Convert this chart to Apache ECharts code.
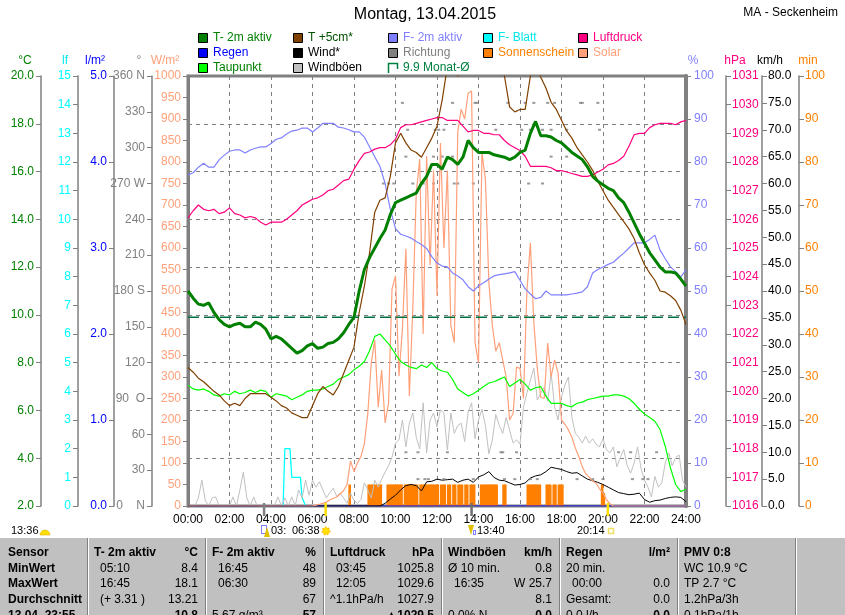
<!DOCTYPE html>
<html><head><meta charset="utf-8">
<script src="https://cdn.jsdelivr.net/npm/echarts@6/dist/echarts.min.js"></script>
<style>html,body{margin:0;padding:0;background:#fff}#c{width:845px;height:615px}</style>
</head><body><div id="c"></div>
<script>
// ---------- DATA ----------
const TITLE = 'Montag, 13.04.2015';
const STATION = 'MA - Seckenheim';
const HOUR_TICKS = 2;
const MONTH_AVG = 9.9;

// 15-minute values 00:00 .. 24:00
const T2M = [11.0,10.7,10.45,10.4, 10.5,10.1,9.8,9.6, 9.5,9.6,9.65,9.5, 9.5,9.7,9.6,9.4,
  9.0,9.1,9.0,8.8, 8.6,8.4,8.5,8.7, 8.8,8.6,8.65,8.8, 8.85,9.0,9.25,9.6,
  9.9,11.0,11.9,12.4, 12.8,13.2,13.55,14.2, 14.7,14.8,14.9,15.0, 15.1,15.5,15.8,16.3,
  16.3,16.1,16.6,16.5, 16.3,16.6,17.3,17.0, 16.8,16.8,16.8,16.7, 16.65,16.6,16.5,16.6,
  16.8,16.9,17.6,18.1, 17.5,17.5,17.45,17.3, 17.2,17.0,16.8,16.65, 16.5,16.2,15.8,15.6,
  15.45,15.3,15.2,14.9, 14.7,14.3,13.85,13.4, 13.0,12.6,12.3,12.0, 11.8,11.8,11.75,11.5, 11.2];
const T5CM = [7.8,7.6,7.35,7.2, 7.0,6.8,6.65,6.4, 6.2,6.3,6.2,6.5, 6.7,6.7,6.7,6.7,
  6.55,6.4,6.2,6.1, 5.9,5.8,5.7,5.7, 6.2,6.7,7.0,6.8, 6.65,7.0,7.55,8.1,
  8.65,10.1,11.2,12.6, 14.3,14.8,14.9,15.8, 17.2,17.6,17.2,16.9, 16.8,16.6,17.0,17.4,
  17.9,19.0,20.4,20.8, 20.0,21.0,22.0,22.5, 22.5,22.0,21.8,21.3, 20.8,20.0,18.7,18.5,
  18.6,18.6,20.0,20.5, 19.95,19.5,18.9,18.6, 18.15,17.7,17.4,17.0, 16.7,16.4,16.05,15.6,
  15.2,14.8,14.5,14.2, 13.9,13.6,13.2,12.6, 12.1,11.75,11.45,11.0, 10.95,10.8,10.6,10.2, 9.6];
const DEWPOINT = [7.06,6.9,6.85,6.9, 6.8,6.65,6.6,6.7, 6.65,6.8,6.7,6.75, 6.85,6.75,6.85,6.8,
  6.55,6.7,6.65,6.6, 6.45,6.55,6.65,6.8, 6.85,6.85,6.9,7.0, 7.1,7.3,7.4,7.5,
  7.7,7.85,8.05,8.5, 9.1,9.2,8.95,8.7, 8.35,8.05,7.9,7.8, 7.75,7.9,7.8,8.0,
  7.75,7.65,7.6,7.3, 6.9,6.75,6.6,6.7, 6.85,7.0,7.15,7.2, 7.3,7.4,7.0,7.15,
  7.3,7.1,6.85,6.95, 7.0,6.6,6.3,6.3, 6.3,6.2,6.15,6.3, 6.35,6.45,6.5,6.55,
  6.6,6.6,6.65,6.65, 6.6,6.5,6.3,6.05, 5.85,5.7,5.55,5.2, 4.5,3.6,2.9,2.6, 2.7];
const HUMIDITY = [77.0,77.5,78.8,79.7, 78.8,78.8,80.5,81.6, 82.5,82.8,82.8,82.1, 82.8,83.2,83.5,83.5,
  84.3,85.3,85.6,86.5, 87.2,87.4,87.9,87.9, 87.0,87.9,89.0,89.0, 89.0,88.1,87.9,87.5,
  87.0,87.0,85.8,83.5, 81.2,79.0,75.0,69.0, 64.5,63.2,62.8,62.3, 61.5,60.8,59.9,58.0,
  56.5,55.8,55.6,54.2, 53.5,52.6,51.0,50.0, 51.2,51.9,52.8,53.5, 53.8,54.0,54.2,54.5,
  52.5,50.5,49.3,48.2, 48.5,50.0,49.1,49.1, 49.1,49.1,49.3,49.5, 49.8,51.0,54.2,55.0,
  55.6,56.2,56.7,57.8, 58.8,60.0,61.2,61.2, 61.2,62.0,63.0,59.5, 57.5,55.6,54.5,53.3, 54.9];
const PRESSURE = [1026.05,1026.3,1026.5,1026.35, 1026.3,1026.35,1026.2,1026.25, 1026.4,1026.2,1026.15,1026.05, 1026.1,1026.05,1025.9,1025.8,
  1025.9,1025.9,1025.9,1026.0, 1026.15,1026.3,1026.5,1026.6, 1026.7,1026.75,1026.85,1027.0, 1027.05,1027.2,1027.35,1027.4,
  1027.75,1028.05,1028.3,1028.35, 1028.45,1028.5,1028.5,1028.6, 1028.8,1029.2,1029.3,1029.3, 1029.35,1029.4,1029.45,1029.5,
  1029.55,1029.55,1029.45,1029.45, 1029.45,1029.25,1029.05,1029.1, 1029.1,1029.0,1029.0,1028.95, 1028.95,1028.75,1028.6,1028.5,
  1028.4,1028.2,1027.85,1027.85, 1027.85,1027.85,1027.8,1027.7, 1027.7,1027.65,1027.6,1027.55, 1027.5,1027.5,1027.55,1027.65,
  1027.75,1027.9,1027.95,1028.05, 1028.2,1028.55,1028.95,1029.0, 1029.0,1029.2,1029.3,1029.35, 1029.35,1029.35,1029.3,1029.4, 1029.45];

// wind (15-minute values from 09:00)
const WIND_START = '09:00';
const WIND = [0,0,0.5,1.3, 2.0,3.0,3.8,4.0, 3.8,2.8,4.5,4.6, 5.0,4.8,4.9,5.0, 4.4,4.8,5.0,4.4,
  5.4,5.8,6.4,5.3, 4.8,4.7,4.3,3.9, 4.0,4.3,5.2,5.6, 5.8,6.4,7.2,7.0, 6.8,6.4,6.1,6.2,
  5.6,5.0,4.7,4.4, 4.0,3.5,3.0,2.5, 2.3,2.1,2.2,2.4, 1.2,0.7,1.0,1.1, 1.4,1.6,1.7,1.6, 0.8];

// gusts (10-minute values 00:00 .. 24:00)
const GUSTS = [0,0,0,1.5,4.8,1.0, 0,1.5,1.7,0,0,0, 0,1.7,0,3.0,6.3,1.5, 0,1.7,0,0,0,0,
  0,0,1.7,0,1.5,0, 1.7,0,3.0,1.5,4.8,2.0, 4.8,3.5,4.5,3.0,1.5,2.5, 3.3,1.8,2.4,1.5,0.5,2.4,
  1.0,0.5,1.2,4.3,3.0,1.5, 4.8,3.5,5.0,6.3,7.5,9.1, 11.7,12.3,16.0,11.0,15.4,17.3, 12.8,10.6,19.2,9.9,16.0,17.3,
  14.7,17.9,17.3,10.4,17.3,13.5, 15.0,15.4,12.0,17.5,19.2,12.5, 16.0,18.0,15.0,9.7,12.3,17.0, 15.0,13.5,16.5,14.1,11.7,12.3,
  11.5,18.4,21.0,23.4,25.7,19.7, 21.0,22.1,19.5,24.7,18.5,16.0, 20.3,22.5,24.0,16.5,13.5,12.8, 11.7,13.0,11.7,12.5,11.5,11.0,
  12.5,10.5,9.9,11.0,7.3,9.0, 10.5,7.5,6.1,8.0,11.0,7.0, 4.8,3.5,1.7,5.5,3.5,4.3, 8.0,9.9,7.5,9.0,9.5,4.8, 3.5];

// solar radiation (10-minute values from 06:00 to 20:30), zero at night
const SOLAR_START = '06:00';
const SOLAR = [0,2,4,6,9,14, 18,21,28,36,50,105, 80,100,115,145,216,333, 386,230,316,193,240,505,
  535,302,412,598,256,458, 728,807,400,814,560,780, 488,844,600,780,420,380, 870,923,900,960,965,380,
  333,820,760,520,420,360, 380,340,300,200,215,323, 320,250,500,612,426,320, 253,250,379,300,340,310,
  200,190,177,160,135,115, 91,75,67,58,53,40, 30,15,5,0];

// sunshine minutes per 5-minute slot, from 07:30
const SUN_START = '07:30';
const SUN = [0,0,0,5, 0,0,0,0,0,0,0,0,0,0, 5,5,5,5,5,5,5,5, 0,0,0, 5,5,5,5,5,5,5,5,5, 0,
  5,5,5,5,5,5,5,5, 0, 5,5,5,5,5,5,5,5,5,5,5, 0, 5,5,5, 0, 5,5, 0, 5,5, 0, 5,5,5, 0, 5,5, 0, 5,5,5,
  0,0,0, 5,5,5,5,5,5,5,5,5,5, 0,0,0, 5,5, 0,0,0,0,0,0,0,0,0,0,0,0, 5,5,5,5,5,5,5,5, 0,0,0,
  5,5,5, 0, 5,5, 0, 5,5,5, 0,0,0,0,0,0,0,0,0,0,0,0,0,0,0,0,0,0,0,0,0,0, 5,3, 0,0,0,0,0];

// leaf wetness (only non-zero episode)
const LEAF_TIMES = ['04:35','04:40','04:55','05:00','05:25','05:30','05:35','05:40'];
const LEAF = [0,2,2,1,1,0.3,0.3,0];

// rain
const RAIN_TIMES = ['00:00','24:00'];
const RAIN = [0,0];

// wind direction samples
const DIR_TIMES = ['09:25','09:40','09:55','10:20','10:30','10:30','10:35','10:50','11:05','11:05','11:20','11:25','11:35',
  '11:50','11:50','11:55','12:05','12:15','12:20','12:20','12:30','12:45','12:45','12:50','13:00','13:45','13:45','13:50',
  '13:55','14:50','15:05','15:10','15:15','15:25','15:45','15:50','16:05','16:15','16:25','16:30','16:30','16:40','16:50',
  '17:05','17:05','17:20','17:30','17:30','17:40','18:15','18:15','18:45','18:55','19:00','19:30','19:45','19:50','20:00',
  '20:45','21:20','21:25','21:55','22:10','22:35'];
const DIR_DEG = [270,270,270,337.5,292.5,45,315,270,45,22.5,270,22.5,22.5,
  270,292.5,315,315,292.5,315,22.5,45,337.5,292.5,270,270,270,22.5,337.5,
  337.5,315,45,45,22.5,337.5,22.5,45,315,337.5,270,315,22.5,337.5,22.5,
  315,270,337.5,315,292.5,337.5,315,292.5,22.5,337.5,337.5,22.5,337.5,315,22.5,
  45,45,22.5,22.5,22.5,45];

// astronomical events
const DAY_LENGTH = '13:36';
const MOONRISE = '03:40';
const SUNRISE = '06:38';
const MOONSET = '13:40';
const SUNSET = '20:14';

// statistics table
const TABLE_HEAD = [['Sensor'],['T- 2m aktiv','°C'],['F- 2m aktiv','%'],['Luftdruck','hPa'],['Windböen','km/h'],['Regen','l/m²'],['PMV 0:8']];
const TABLE_ROWS = [
  [['MinWert'],['05:10','8.4'],['16:45','48'],['03:45','1025.8'],['Ø 10 min.','0.8'],['20 min.',''],['WC 10.9 °C']],
  [['MaxWert'],['16:45','18.1'],['06:30','89'],['12:05','1029.6'],['16:35','W 25.7'],['00:00','0.0'],['TP 2.7 °C']],
  [['Durchschnitt'],['(+ 3.31 )','13.21'],['','67'],['^1.1hPa/h','1027.9'],['','8.1'],['Gesamt:','0.0'],['1.2hPa/3h']],
  [['13.04. 23:55'],['','10.8'],['5.67 g/m³','57'],['','▲1029.5'],['0.0% N','0.0'],['0.0 l/h','0.0'],['0.1hPa/1h']]
];

// ---------- CHART ----------
const FONT = "'Liberation Sans', Arial, sans-serif";
const hm = s => { const p = s.split(':').map(Number); return p[0] + p[1] / 60; };
const q15 = arr => arr.map((v, i) => [i / 4, v]);
const stepFrom = (arr, t0, perHour) => arr.map((v, i) => [t0 + i / perHour, v]);
const byTimes = (times, vals) => times.map((t, i) => [hm(t), vals[i]]);

const chart = echarts.init(document.getElementById('c'), null, { renderer: 'canvas' });

function yAx(o) {
  return {
    type: 'value', min: o.min, max: o.max, interval: o.interval, position: o.pos, offset: o.offset,
    axisLine: { show: true, onZero: false, lineStyle: { color: '#808080', width: o.lw || 1.5 } },
    axisTick: { show: true, length: 5, lineStyle: { color: '#808080', width: 1 } },
    axisLabel: { color: o.color, fontSize: 12, fontFamily: FONT, margin: o.margin || 7, formatter: o.fmt,
      showMinLabel: true, showMaxLabel: true },
    splitLine: { show: !!o.split, lineStyle: { color: '#808080', width: 1, type: [4, 4] } }
  };
}
const dirNames = { 360: '360 N', 270: '270 W', 180: '180 S', 90: '90  O', 0: '0    N' };

const line = (name, data, yi, color, width, z) => ({
  name, type: 'line', data, yAxisIndex: yi, showSymbol: false, symbol: 'none', clip: true, z: z || 3,
  lineStyle: { color, width: width || 1 }, itemStyle: { color }, animation: false
});

const option = {
  animation: false,
  backgroundColor: '#ffffff',
  grid: { left: 188, right: 159, top: 76, bottom: 109, show: true, borderColor: '#808080', borderWidth: 3 },
  xAxis: {
    type: 'value', min: 0, max: 24, interval: HOUR_TICKS,
    axisLine: { show: true, onZero: false, lineStyle: { color: '#808080', width: 2 } },
    axisTick: { show: false },
    axisLabel: { color: '#000', fontSize: 12, fontFamily: FONT, margin: 8,
      formatter: v => String(v).padStart(2, '0') + ':00' },
    splitLine: { show: true, lineStyle: { color: '#808080', width: 1, type: [4, 4] } }
  },
  yAxis: [
    yAx({ min: 2, max: 20, interval: 2, pos: 'left', offset: 147, color: '#008000', fmt: v => v.toFixed(1), split: true }),
    yAx({ min: 0, max: 15, interval: 1, pos: 'left', offset: 110, color: '#00FFFF', fmt: v => String(v) }),
    yAx({ min: 0, max: 5, interval: 1, pos: 'left', offset: 74, color: '#0000FF', fmt: v => v.toFixed(1) }),
    yAx({ min: 0, max: 360, interval: 30, pos: 'left', offset: 36, color: '#808080', fmt: v => dirNames[v] || String(v) }),
    yAx({ min: 0, max: 1000, interval: 50, pos: 'left', offset: 0, color: '#FFA07A', fmt: v => String(v), lw: 3 }),
    yAx({ min: 0, max: 100, interval: 10, pos: 'right', offset: 0, color: '#8080FF', fmt: v => String(v), lw: 4, margin: 8 }),
    yAx({ min: 1016, max: 1031, interval: 1, pos: 'right', offset: 40, color: '#FF0080', fmt: v => String(v), margin: 6 }),
    yAx({ min: 0, max: 80, interval: 5, pos: 'right', offset: 76, color: '#000000', fmt: v => v.toFixed(1), margin: 6 }),
    yAx({ min: 0, max: 100, interval: 10, pos: 'right', offset: 113, color: '#FF8000', fmt: v => String(v), margin: 6 })
  ],
  series: [
    line('Regen', byTimes(RAIN_TIMES, RAIN), 2, '#0000FF', 1, 0),
    line('F- Blatt', byTimes(LEAF_TIMES, LEAF), 1, '#00FFFF', 1.3, 1),
    { name: 'Sonnenschein', type: 'bar', yAxisIndex: 8, barWidth: 2.6, z: 2, animation: false,
      itemStyle: { color: '#FF8000' },
      data: SUN.map((v, i) => [hm(SUN_START) + (i + 0.5) / 12, v]) },
    line('Windböen', stepFrom(GUSTS, 0, 6), 7, '#C0C0C0', 1, 2),
    line('Wind*', [[0, 0]].concat(stepFrom(WIND, hm(WIND_START), 4)), 7, '#000000', 1, 3),
    { name: 'Richtung', type: 'scatter', yAxisIndex: 3, symbol: 'rect', symbolSize: [3, 2], z: 3, animation: false,
      itemStyle: { color: '#808080' }, data: byTimes(DIR_TIMES, DIR_DEG) },
    line('Solar', [[0, 0]].concat(stepFrom(SOLAR, hm(SOLAR_START), 6), [[24, 0]]), 4, '#FFA07A', 1.2, 4),
    line('Taupunkt', q15(DEWPOINT), 0, '#00FF00', 1.2, 5),
    line('F- 2m aktiv', q15(HUMIDITY), 5, '#8080FF', 1.2, 5),
    line('Luftdruck', q15(PRESSURE), 6, '#FF0080', 1.2, 5),
    line('T +5cm*', q15(T5CM), 0, '#804000', 1.2, 6),
    Object.assign(line('Monat', [[0, MONTH_AVG], [24, MONTH_AVG]], 0, '#007040', 1.5, 6),
      { lineStyle: { color: '#007040', width: 1.5, type: [11, 5] } }),
    line('T- 2m aktiv', q15(T2M), 0, '#008000', 3, 7)
  ]
};
chart.setOption(option);

// ---------- GRAPHIC (legend, titles, table, events) ----------
const G = [];
const txt = (x, y, text, o) => G.push({ type: 'text', x, y, silent: true, z: 100,
  style: Object.assign({ text, fill: '#000', font: '12px ' + FONT, textAlign: 'left', textVerticalAlign: 'middle' }, o || {}) });

txt(425, 15, TITLE, { font: '16px ' + FONT, textAlign: 'center' });
txt(838, 13, STATION, { textAlign: 'right' });

const LEGEND = [
  ['T- 2m aktiv', '#008000', '#008000'], ['T +5cm*', '#804000', '#005000'], ['F- 2m aktiv', '#8080FF', '#8080FF'],
  ['F- Blatt', '#00FFFF', '#00E8E8'], ['Luftdruck', '#FF0080', '#FF0080'],
  ['Regen', '#0000FF', '#0000FF'], ['Wind*', '#000000', '#000000'], ['Richtung', '#808080', '#808080'],
  ['Sonnenschein', '#FF8000', '#FF8000'], ['Solar', '#FFA07A', '#FFA07A'],
  ['Taupunkt', '#00FF00', '#008000'], ['Windböen', '#C0C0C0', '#000000'], [MONTH_AVG + ' Monat-Ø', null, '#008040']
];
const LX = [198, 293, 388, 483, 578], LY = [38, 53, 68];
LEGEND.forEach((it, i) => {
  const x = LX[i % 5], y = LY[Math.floor(i / 5)];
  if (it[1]) {
    G.push({ type: 'rect', shape: { x: x + 0.5, y: y - 4.5, width: 9, height: 9 }, z: 100,
      style: { fill: it[1], stroke: '#000', lineWidth: 1 } });
  } else {
    G.push({ type: 'polyline', shape: { points: [[x + 0.5, y + 5], [x + 0.5, y - 4.5], [x + 9.5, y - 4.5], [x + 9.5, y + 1]] }, z: 100,
      style: { fill: null, stroke: it[2], lineWidth: 1.5 } });
  }
  txt(x + 15, y, it[0], { fill: it[2], font: '12px ' + FONT });
});

// axis units
[['°C', 25, '#008000'], ['lf', 65, '#00E8E8'], ['l/m²', 95, '#0000FF'], ['°', 139, '#808080'], ['W/m²', 165, '#FFA07A'],
 ['%', 693, '#8080FF'], ['hPa', 735, '#FF0080'], ['km/h', 770, '#000000'], ['min', 808, '#FF8000']]
  .forEach(u => txt(u[1], 61, u[0], { fill: u[2], textAlign: 'center' }));

// events below the time axis
const yBase = chart.convertToPixel({ yAxisIndex: 0 }, 2);
[[MOONRISE, '#808080'], [SUNRISE, '#FFE000'], [MOONSET, '#707070'], [SUNSET, '#FFE000']].forEach(e => {
  const x = chart.convertToPixel({ xAxisIndex: 0 }, hm(e[0]));
  G.push({ type: 'line', shape: { x1: x, y1: yBase - 3, x2: x, y2: yBase + 10 }, z: 100,
    style: { stroke: e[1], lineWidth: 2.5 } });
});
txt(11, 531, DAY_LENGTH, { font: '11px ' + FONT });
G.push({ type: 'sector', shape: { cx: 45, cy: 535, r: 5, r0: 0, startAngle: Math.PI, endAngle: Math.PI * 2 }, z: 100,
  style: { fill: '#FFE000', stroke: '#E0A000', lineWidth: 0.5 } });
G.push({ type: 'rect', shape: { x: 261.5, y: 525.5, width: 5, height: 8 }, z: 100,
  style: { fill: null, stroke: '#0000FF', lineWidth: 1, lineDash: [1, 1] } });
G.push({ type: 'polygon', shape: { points: [[264, 537], [267, 527], [270, 537]] }, z: 100, style: { fill: '#E0C000' } });
txt(271, 531, MOONRISE.slice(0, 3), { font: '11px ' + FONT });
txt(292, 531, SUNRISE, { font: '11px ' + FONT });
G.push({ type: 'circle', shape: { cx: 326, cy: 531, r: 3.5 }, z: 100, style: { fill: '#FFE000', stroke: '#FFC000', lineWidth: 2, lineDash: [1.5, 1.5] } });
G.push({ type: 'polygon', shape: { points: [[468, 525], [474, 525], [471, 535]] }, z: 100, style: { fill: '#E0C000' } });
G.push({ type: 'rect', shape: { x: 473.5, y: 530.5, width: 2, height: 4 }, z: 100, style: { fill: null, stroke: '#0000FF', lineWidth: 1, lineDash: [1, 1] } });
txt(477, 531, MOONSET, { font: '11px ' + FONT });
txt(577, 531, SUNSET, { font: '11px ' + FONT });
G.push({ type: 'rect', shape: { x: 608.5, y: 528.5, width: 5, height: 5 }, z: 100, style: { fill: null, stroke: '#F0E060', lineWidth: 1.5 } });

// statistics table
G.push({ type: 'rect', shape: { x: 0, y: 538, width: 845, height: 80 }, z: 90, style: { fill: '#C0C0C0' } });
const COLS = [0, 87, 205, 323, 441, 559, 677, 795];
COLS.slice(1).forEach(x => {
  G.push({ type: 'line', shape: { x1: x + 0.5, y1: 538, x2: x + 0.5, y2: 615 }, z: 91, style: { stroke: '#808080', lineWidth: 1 } });
  G.push({ type: 'line', shape: { x1: x + 1.5, y1: 538, x2: x + 1.5, y2: 615 }, z: 91, style: { stroke: '#FFFFFF', lineWidth: 1 } });
});
const ROW_Y = [553, 569, 584, 600, 616];
const BOLD = 'bold 12px ' + FONT, NORM = '12px ' + FONT;
const isTime = s => /^\d\d:\d\d$/.test(s) || s.startsWith('(');
[TABLE_HEAD].concat(TABLE_ROWS).forEach((row, r) => {
  const y = ROW_Y[r];
  row.forEach((cell, c) => {
    if (c === 0) { txt(8, y, cell[0], { font: BOLD }); return; }
    const left = COLS[c], right = COLS[c + 1];
    const hdr = r === 0;
    if (cell[0]) txt(left + (isTime(cell[0]) && !hdr ? 13 : 7), y, cell[0], { font: hdr ? BOLD : NORM });
    if (cell[1] !== undefined && cell[1] !== '') txt(right - 7, y, cell[1], { font: (hdr || r === 4) ? BOLD : NORM, textAlign: 'right' });
  });
});

chart.setOption({ graphic: { elements: G } });
</script>
</body></html>
